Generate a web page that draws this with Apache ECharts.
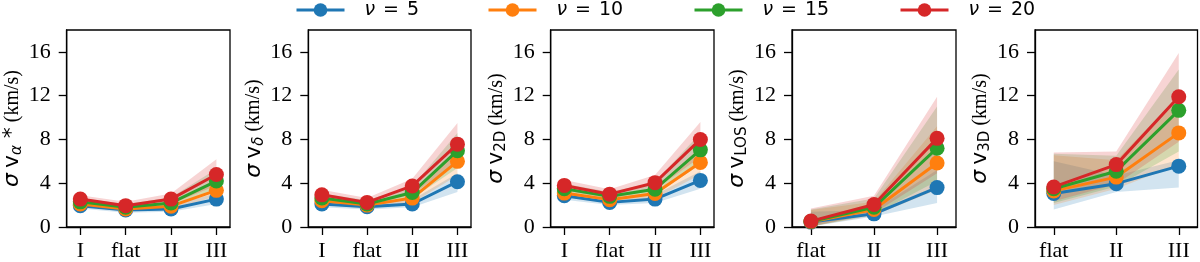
<!DOCTYPE html>
<html><head><meta charset="utf-8">
<script src="https://cdn.jsdelivr.net/npm/echarts@6/dist/echarts.min.js"></script>
<style>html,body{margin:0;padding:0;background:#fff}#c{width:1200px;height:262px}</style>
</head><body><div id="c"></div>
<script>
// ---------- data ----------
const seriesNames = ['ν = 5', 'ν = 10', 'ν = 15', 'ν = 20'];
const catsA = ['I', 'flat', 'II', 'III'];
const catsB = ['flat', 'II', 'III'];
const yTicks = [0, 4, 8, 12, 16];

// Panel 1: sigma v_alpha*   (rows: nu=5,10,15,20)
const p1Mean = [[1.95,1.55,1.65,2.55],[2.1,1.65,1.9,3.35],[2.3,1.8,2.2,4.2],[2.55,1.95,2.55,4.8]];
const p1Lo   = [[1.7,1.3,1.4,2.1],[1.85,1.45,1.6,2.8],[2.0,1.55,1.85,3.4],[2.2,1.65,2.1,3.8]];
const p1Hi   = [[2.25,1.8,1.95,3.1],[2.45,1.95,2.3,4.2],[2.65,2.1,2.7,5.3],[2.9,2.3,3.05,6.2]];
// Panel 2: sigma v_delta
const p2Mean = [[2.1,1.86,2.1,4.14],[2.4,2.0,2.64,6.0],[2.65,2.1,3.15,6.97],[2.94,2.25,3.75,7.57]];
const p2Lo   = [[1.8,1.6,1.8,3.2],[2.05,1.7,2.2,4.7],[2.25,1.8,2.6,5.4],[2.45,1.9,3.0,5.9]];
const p2Hi   = [[2.4,2.1,2.5,4.9],[2.75,2.3,3.1,7.2],[3.05,2.45,3.7,8.6],[3.4,2.65,4.4,9.5]];
// Panel 3: sigma v_2D
const p3Mean = [[2.85,2.25,2.55,4.26],[3.1,2.5,3.06,5.9],[3.5,2.8,3.45,7.05],[3.8,3.0,4.05,8.0]];
const p3Lo   = [[2.5,2.0,2.2,3.5],[2.75,2.2,2.6,4.8],[3.1,2.45,2.95,5.7],[3.35,2.6,3.4,6.4]];
const p3Hi   = [[3.2,2.55,2.95,5.1],[3.5,2.85,3.55,7.2],[3.95,3.2,4.1,8.6],[4.3,3.45,4.75,9.6]];
// Panel 4: sigma v_LOS
const p4Mean = [[0.45,1.2,3.6],[0.48,1.6,5.85],[0.5,1.8,7.2],[0.54,2.05,8.1]];
const p4Lo   = [[0.05,0.95,2.2],[0.05,1.05,3.4],[0.05,1.15,4.2],[0.05,1.25,4.9]];
const p4Hi   = [[1.4,1.55,5.2],[1.55,2.3,9.2],[1.6,2.6,11.0],[1.7,2.85,11.9]];
// Panel 5: sigma v_3D
const p5Mean = [[3.06,3.96,5.56],[3.3,4.56,8.6],[3.5,5.1,10.66],[3.66,5.7,11.9]];
const p5Lo   = [[1.6,3.2,3.6],[2.0,3.5,5.7],[2.2,3.7,6.9],[2.35,3.9,7.8]];
const p5Hi   = [[6.0,4.7,6.1],[6.55,6.1,12.0],[6.7,6.5,14.4],[6.8,6.9,15.9]];

const yNames = [
  '{s|σ} {v|v}{subi|α}{v| *} {u|(km/s)}',
  '{s|σ} {v|v}{subi|δ} {u|(km/s)}',
  '{s|σ} {v|v}{sub|2D} {u|(km/s)}',
  '{s|σ} {v|v}{sub|LOS} {u|(km/s)}',
  '{s|σ} {v|v}{sub|3D} {u|(km/s)}'
];

// ---------- styling / layout ----------
const colors = ['#1f77b4', '#ff7f0e', '#2ca02c', '#d62728'];
const bandColors = ['rgba(31,119,180,0.2)', 'rgba(255,127,14,0.2)', 'rgba(44,160,44,0.2)', 'rgba(214,39,40,0.2)'];
const panels = [
  {cats: catsA, mean: p1Mean, lo: p1Lo, hi: p1Hi, left: 66.7, width: 163.3},
  {cats: catsA, mean: p2Mean, lo: p2Lo, hi: p2Hi, left: 308.3, width: 162.7},
  {cats: catsA, mean: p3Mean, lo: p3Lo, hi: p3Hi, left: 550.7, width: 163.3},
  {cats: catsB, mean: p4Mean, lo: p4Lo, hi: p4Hi, left: 792, width: 164},
  {cats: catsB, mean: p5Mean, lo: p5Lo, hi: p5Hi, left: 1035, width: 162.5}
];
const legendLeft = [295, 487, 693, 899];

const serif = 'Liberation Serif';
const grids = [], xAxes = [], yAxes = [], series = [];

panels.forEach((p, gi) => {
  const xs = p.cats.map((_, i) => i);
  grids.push({left: p.left, top: 30, width: p.width, height: 200, show: true,
    borderColor: '#000', borderWidth: 1.3, backgroundColor: 'transparent'});
  xAxes.push({
    type: 'value', gridIndex: gi, min: -0.3, max: xs.length - 1 + 0.3,
    axisLine: {show: true, onZero: false, lineStyle: {color: '#000', width: 1.3}},
    axisTick: {show: true, length: 8, customValues: xs, lineStyle: {color: '#000', width: 1.3}},
    axisLabel: {customValues: xs, formatter: v => p.cats[Math.round(v)], margin: 13,
      fontFamily: serif, fontSize: 22, color: '#000'},
    splitLine: {show: false}
  });
  yAxes.push({
    type: 'value', gridIndex: gi, min: 0, max: 18,
    axisLine: {show: true, onZero: false, lineStyle: {color: '#000', width: 1.3}},
    axisTick: {show: true, length: 8, customValues: yTicks, lineStyle: {color: '#000', width: 1.3}},
    axisLabel: {customValues: yTicks, margin: 16, fontFamily: serif, fontSize: 22, color: '#000'},
    splitLine: {show: false},
    name: yNames[gi], nameLocation: 'middle', nameGap: 31,
    nameTextStyle: {
      color: '#000', fontFamily: serif, fontSize: 20,
      rich: {
        s: {fontFamily: 'DejaVu Sans', fontStyle: 'italic', fontSize: 22, color: '#000'},
        v: {fontFamily: 'DejaVu Sans', fontSize: 22, color: '#000'},
        sub: {fontFamily: 'DejaVu Sans', fontSize: 15, padding: [10, 0, 0, 0], color: '#000'},
        subi: {fontFamily: 'DejaVu Sans', fontStyle: 'italic', fontSize: 15, padding: [10, 0, 0, 0], color: '#000'},
        u: {fontFamily: serif, fontSize: 20, color: '#000'}
      }
    }
  });
  // bands
  for (let k = 0; k < 4; k++) {
    const data = xs.map((x, i) => [x, p.lo[k][i], p.hi[k][i]]);
    series.push({
      type: 'custom', xAxisIndex: gi, yAxisIndex: gi, z: 1, silent: true,
      data: data, encode: {x: 0, y: [1, 2]},
      renderItem: (params, api) => {
        if (params.dataIndex !== 0) return {type: 'group', children: []};
        const pts = [];
        data.forEach(d => pts.push(api.coord([d[0], d[1]])));
        for (let i = data.length - 1; i >= 0; i--) pts.push(api.coord([data[i][0], data[i][2]]));
        return {type: 'polygon', shape: {points: pts}, style: {fill: bandColors[k], stroke: null}};
      }
    });
  }
  // lines
  for (let k = 0; k < 4; k++) {
    series.push({
      type: 'line', name: seriesNames[k], xAxisIndex: gi, yAxisIndex: gi, z: 3 + k,
      data: xs.map((x, i) => [x, p.mean[k][i]]),
      symbol: 'circle', symbolSize: 15, showSymbol: true,
      lineStyle: {color: colors[k], width: 3},
      itemStyle: {color: colors[k]},
      emphasis: {disabled: true}, animation: false
    });
  }
});

const legends = seriesNames.map((nm, k) => ({
  data: [nm], left: legendLeft[k], top: 0, padding: 0, itemWidth: 48, itemHeight: 17,
  selectedMode: false,
  lineStyle: {width: 3},
  formatter: n => '{i|ν}{sp| }={sp| }' + n.split('= ')[1],
  textStyle: {fontFamily: 'DejaVu Sans', fontSize: 19, color: '#000', padding: [0, 0, 0, 15], lineHeight: 20,
    rich: {
      i: {fontFamily: 'DejaVu Sans', fontStyle: 'italic', fontSize: 19, color: '#000', lineHeight: 20},
      sp: {fontFamily: 'DejaVu Sans', fontSize: 19, width: 8, lineHeight: 20}
    }}
}));

const chart = echarts.init(document.getElementById('c'), null, {renderer: 'canvas'});
chart.setOption({
  backgroundColor: '#fff', animation: false, color: colors,
  grid: grids, xAxis: xAxes, yAxis: yAxes, series: series, legend: legends
});
</script></body></html>
